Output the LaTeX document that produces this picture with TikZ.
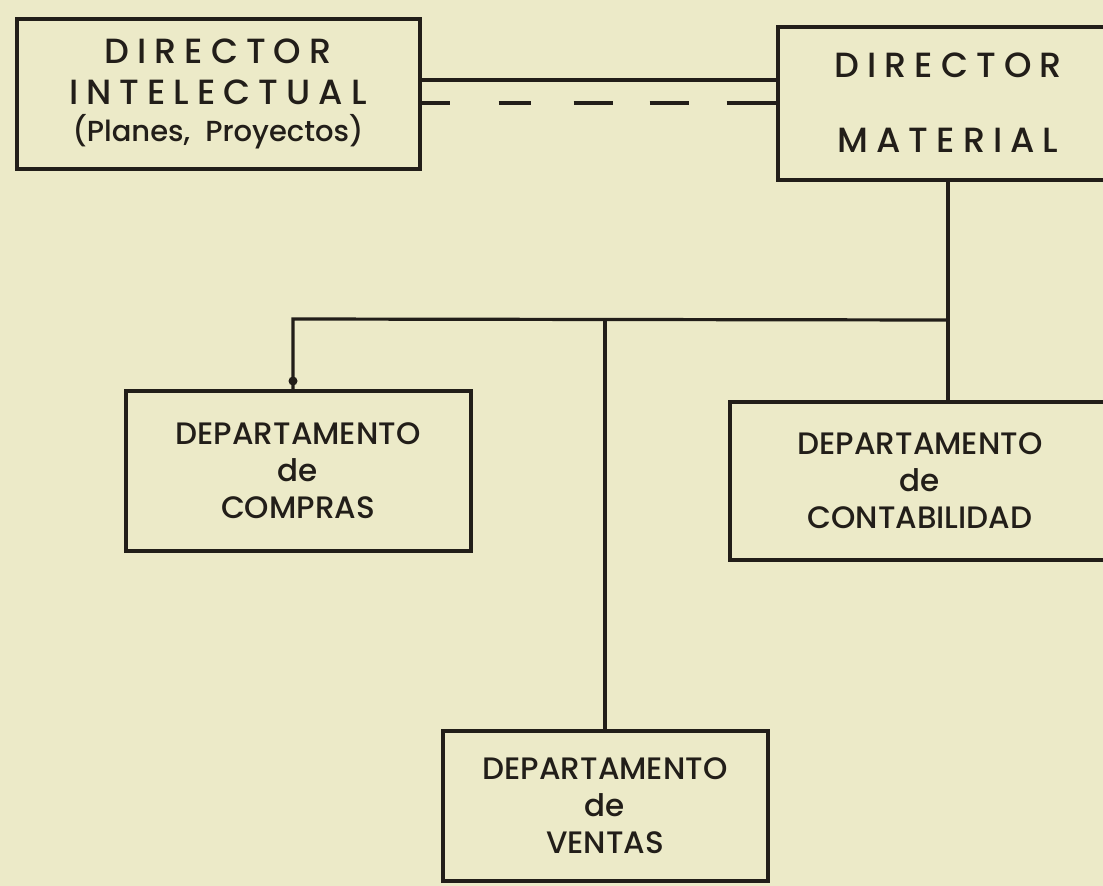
\documentclass[tikz,border=0pt]{standalone}
\usepackage{fontspec}
\setmainfont{Poppins Medium}
\newfontfamily\spaced[LetterSpace=23]{Poppins Medium}
\definecolor{paper}{RGB}{236,234,200}
\definecolor{ink}{RGB}{34,30,25}
\begin{document}
\begin{tikzpicture}[x=1pt,y=-1pt,
  box/.style={draw=ink,line width=4pt,text=ink,align=center,inner sep=0pt},
  wire/.style={draw=ink,line width=3.2pt},
  deptbox/.style={box,font=\fontsize{31}{37}\selectfont},
  dirbox/.style={box,font=\fontsize{35}{41}\selectfont}]
\fill[paper] (0,0) rectangle (1103,886);
\useasboundingbox (0,0) rectangle (1103,886);
\clip (0,0) rectangle (1103,886);

\node[dirbox,minimum width=403pt,minimum height=150pt] (intel) at (218,94)
  {{\spaced DIRECTOR}\\{\spaced INTELECTUAL}\\[-4pt]{\fontsize{29}{35}\selectfont(Planes,\ \ Proyectos)}};
\node[dirbox,minimum width=340pt,minimum height=153pt] (mat) at (948,103)
  {{\spaced DIRECTOR}\\[34pt]{\spaced MATERIAL}};
\node[deptbox,minimum width=345pt,minimum height=160pt] (comp) at (298,471)
  {DEPARTAMENTO\\de\\COMPRAS};
\node[deptbox,minimum width=380pt,minimum height=158pt] (cont) at (920,481)
  {DEPARTAMENTO\\de\\CONTABILIDAD};
\node[deptbox,minimum width=325pt,minimum height=150pt] (vent) at (605,806)
  {DEPARTAMENTO\\de\\VENTAS};

\coordinate (jL) at (293,319);
\coordinate (jV) at (605,320);
\coordinate (jR) at (947,320);

\draw[wire] ([yshift=14pt]intel.east) -- ([yshift=14pt]intel.east -| mat.west);
\draw[wire,dash pattern=on 28pt off 49pt on 32pt off 43pt on 39pt off 37pt on 39pt off 38pt on 70pt off 10pt]
  ([yshift=-9pt]intel.east) -- ([yshift=-9pt]intel.east -| mat.west);

\draw[wire] (mat.south) -- (mat.south |- cont.north);
\draw[wire] (mat.south |- jR) -- (jL) -- (jL |- comp.north);
\fill[ink] ([yshift=8pt]jL |- comp.north) circle (4.5pt);
\draw[wire] (jV) -- (jV |- vent.north);
\end{tikzpicture}
\end{document}
